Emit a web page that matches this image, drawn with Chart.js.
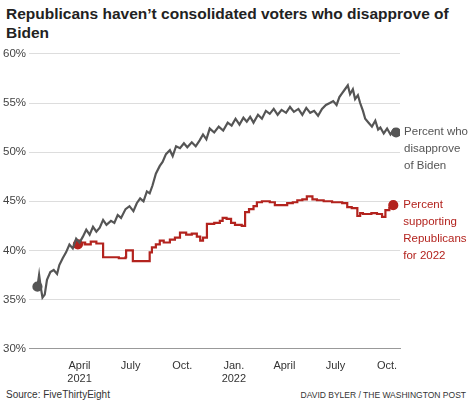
<!DOCTYPE html>
<html><head><script src="https://cdn.jsdelivr.net/npm/chart.js@4"></script>
<style>body{margin:0;background:#fff;font-family:"Liberation Sans",Arial,sans-serif}
#t{position:absolute;left:6px;top:4px;font-weight:bold;font-size:15.5px;line-height:19px;color:#222;width:460px}
#s{position:absolute;left:6px;top:389px;font-size:10px;color:#333}
#c{position:absolute;right:8px;top:390px;font-size:8.5px;color:#333}
#w{position:absolute;left:0;top:44px;width:474px;height:345px}</style></head>
<body><div id="t">Republicans haven’t consolidated voters who disapprove of Biden</div>
<div id="w"><canvas id="cv"></canvas></div>
<div id="s">Source: FiveThirtyEight</div><div id="c">DAVID BYLER / THE WASHINGTON POST</div>
<script>
const disDays=[15,18,21,24,28,32,38,44,50,54,60,66,72,78,84,90,96,102,108,114,120,126,132,138,146,152,158,164,172,179,186,192,198,204,210,215,220,226,233,238,244,251,256,262,269,276,282,290,297,304,310,316,322,330,338,346,354,361,368,375,382,388,394,400,408,415,422,429,436,443,450,458,465,472,480,487,494,501,508,515,522,529,536,542,548,553,558,563,568,572,577,581,586,590,595,599,605,611,617,622,626,632,638,644,650,654];
const disVals=[36.3,37.5,36.2,35.2,35.5,37.0,37.8,38.0,37.6,38.5,39.2,39.8,40.6,40.2,41.2,40.8,41.4,42.1,41.6,42.4,41.9,42.3,43.1,42.6,43.0,42.8,43.6,43.3,44.2,44.5,44.0,44.8,45.3,45.0,46.0,45.8,46.6,47.8,48.6,49.0,49.8,50.2,49.6,50.6,50.4,50.9,50.5,51.0,50.6,51.2,51.8,51.3,52.4,52.0,52.6,52.2,53.0,52.7,53.4,52.8,53.5,53.1,53.6,53.0,53.8,53.4,54.2,53.9,54.4,53.8,54.3,54.0,54.6,54.1,54.4,53.8,54.5,54.0,54.2,53.7,54.4,54.8,55.0,55.2,54.8,55.6,56.0,56.4,56.8,55.9,56.4,55.4,55.8,55.0,54.2,53.4,53.0,52.6,53.2,52.3,52.5,51.9,52.4,51.8,52.3,52.0];
const repDays=[87,95,100,110,120,131,132,150,160,172,173,183,185,200,211,215,219,226,233,240,251,260,269,280,290,299,305,310,317,330,340,345,352,360,367,379,385,392,400,406,415,429,438,447,460,470,478,487,495,505,513,525,540,549,558,567,575,585,590,595,610,620,629,635,642,649];
const repVals=[40.6,40.8,40.6,40.9,40.7,40.7,39.3,39.3,39.2,39.3,40.0,40.0,38.9,38.9,38.9,39.8,40.3,40.6,41.0,40.8,41.1,41.3,41.8,41.6,41.7,41.4,41.0,41.3,42.7,42.8,43.0,43.3,43.2,42.8,42.6,42.5,43.9,44.2,44.5,44.9,45.0,44.9,44.6,44.6,44.8,44.9,45.1,45.2,45.5,45.2,45.1,45.0,44.9,44.9,44.8,44.4,44.3,43.5,43.8,43.7,43.8,43.7,43.4,44.1,44.3,44.6];
const tickDays=[90,181,273,365,455,546,638];
const tickLabels=[["April","2021"],"July","Oct.",["Jan.","2022"],"April","July","Oct."];
const yTicks=[30,35,40,45,50,55,60];
const endR=(n)=>ctx=>(ctx.dataIndex===0||ctx.dataIndex===n-1)?4:0;
const labels={id:'lab',afterDraw(ch){const c=ch.ctx;const m0=ch.getDatasetMeta(0).data,m1=ch.getDatasetMeta(1).data;
c.font='11.5px "Liberation Sans",Arial';c.textBaseline='middle';
const g=m0[m0.length-1],r=m1[m1.length-1];
c.fillStyle='#555';["Percent who","disapprove","of Biden"].forEach((t,i)=>c.fillText(t,g.x+8,g.y+i*17-1));
c.fillStyle='#b3231e';["Percent","supporting","Republicans","for 2022"].forEach((t,i)=>c.fillText(t,r.x+10,r.y+i*17));}};
new Chart(document.getElementById('cv'),{type:'line',
data:{datasets:[
{data:disDays.map((d,i)=>({x:d,y:disVals[i]})),borderColor:'#555',backgroundColor:'#555',borderWidth:2.2,pointRadius:endR(disDays.length),tension:0},
{data:repDays.map((d,i)=>({x:d,y:repVals[i]})),borderColor:'#b3231e',backgroundColor:'#b3231e',borderWidth:2.2,pointRadius:endR(repDays.length),tension:0,stepped:'before'}]},
options:{animation:false,responsive:true,maintainAspectRatio:false,layout:{padding:{right:74,top:4,left:0}},
plugins:{legend:{display:false},tooltip:{enabled:false}},
scales:{x:{type:'linear',min:0,max:661,afterBuildTicks:a=>{a.ticks=tickDays.map(v=>({value:v}))},
ticks:{callback:(v,i)=>tickLabels[i],maxRotation:0,color:'#333',font:{size:11}},grid:{display:false},border:{color:'#999'}},
y:{min:30,max:60,afterBuildTicks:a=>{a.ticks=yTicks.map(v=>({value:v}))},ticks:{callback:v=>v+'%',color:'#444',font:{size:11.5}},
grid:{color:'#ddd',drawTicks:false},border:{display:false}}}},plugins:[labels]});
</script></body></html>
